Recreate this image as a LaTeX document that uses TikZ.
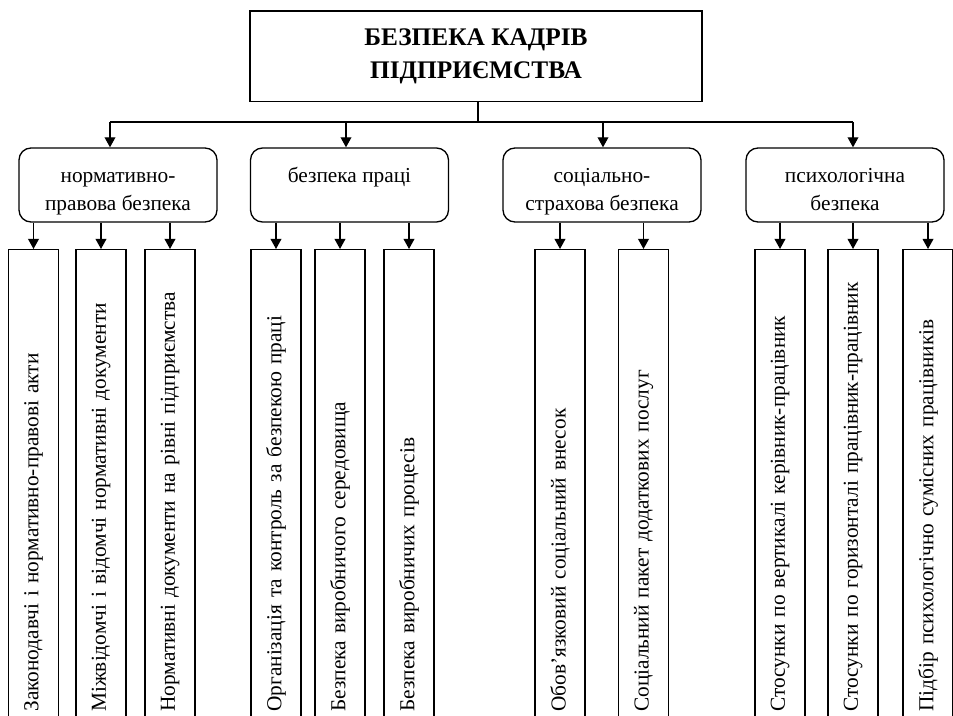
\documentclass[tikz,border=0pt]{standalone}
\usepackage{fontspec}
\setmainfont{Liberation Serif}
\usetikzlibrary{arrows.meta}
\newcommand{\grouptop}{\rule{0pt}{20pt}}

\begin{document}
\begin{tikzpicture}[x=0.75pt, y=-0.75pt, line width=1pt,
		>={Triangle[width=8pt, length=7.5pt]},
		every node/.style={font=\fontsize{16}{20}\selectfont},
		titlebox/.style={draw, minimum width=339pt, minimum height=68pt, align=center,
			font=\fontsize{19}{25}\selectfont\bfseries},
		groupbox/.style={draw, rounded corners=9pt, minimum width=148.5pt, minimum height=55.5pt,
			align=center, inner sep=0pt, font=\fontsize{16}{21}\selectfont},
		leafbox/.style={draw, rotate=90, anchor=east, minimum height=37.5pt, inner xsep=10.5pt,
			text width=336pt, align=left}]
			\clip (0, 0) rectangle (953, 716);
			% top level
			\node[titlebox] (title) at (476, 56.5) {БЕЗПЕКА КАДРІВ\\ПІДПРИЄМСТВА};
			\coordinate (join) at (478, 122);
			\coordinate (tA) at (110, 122);
			\coordinate (tB) at (346, 122);
			\coordinate (tC) at (603, 122);
			\coordinate (tD) at (853, 122);
			% groups
			\node[groupbox] (A) at (118, 185) {\grouptop нормативно-\\правова безпека};
			\node[groupbox] (B) at (349.5, 185) {\grouptop безпека праці\\\phantom{р}};
			\node[groupbox] (C) at (602, 185) {\grouptop соціально-\\страхова безпека};
			\node[groupbox] (D) at (845, 185) {\grouptop психологічна\\безпека\vphantom{р}};
			\draw (title.south -| join) -- (join);
			\draw (tA) -- (tD);
			\foreach \g in {A, B, C, D}
			\draw[->] (t\g) -- (t\g |- \g.north);
			% leaves
			\node[leafbox] (a1) at (33.5, 249) {Законодавчі і нормативно-правові акти};
			\node[leafbox] (a2) at (101, 249) {Міжвідомчі і відомчі нормативні документи};
			\node[leafbox] (a3) at (170, 249) {Нормативні документи на рівні підприємства};
			\node[leafbox] (b1) at (276, 249) {Організація та контроль за безпекою праці};
			\node[leafbox] (b2) at (340, 249) {Безпека виробничого середовища};
			\node[leafbox] (b3) at (409, 249) {Безпека виробничих процесів};
			\node[leafbox] (c1) at (560, 249) {Обов’язковий соціальний внесок};
			\node[leafbox] (c2) at (643.5, 249) {Соціальний пакет додаткових послуг};
			\node[leafbox] (d1) at (780, 249) {Стосунки по вертикалі керівник-працівник};
			\node[leafbox] (d2) at (853, 249) {Стосунки по горизонталі працівник-працівник};
			\node[leafbox] (d3) at (928, 249) {Підбір психологічно сумісних працівників};
			\foreach \l in {a1, a2, a3}
			\draw[->] (\l.east |- A.south) -- (\l.east);
			\foreach \l in {b1, b2, b3}
			\draw[->] (\l.east |- B.south) -- (\l.east);
			\foreach \l in {c1, c2}
			\draw[->] (\l.east |- C.south) -- (\l.east);
			\foreach \l in {d1, d2, d3}
			\draw[->] (\l.east |- D.south) -- (\l.east);
		\end{tikzpicture}
\end{document}
